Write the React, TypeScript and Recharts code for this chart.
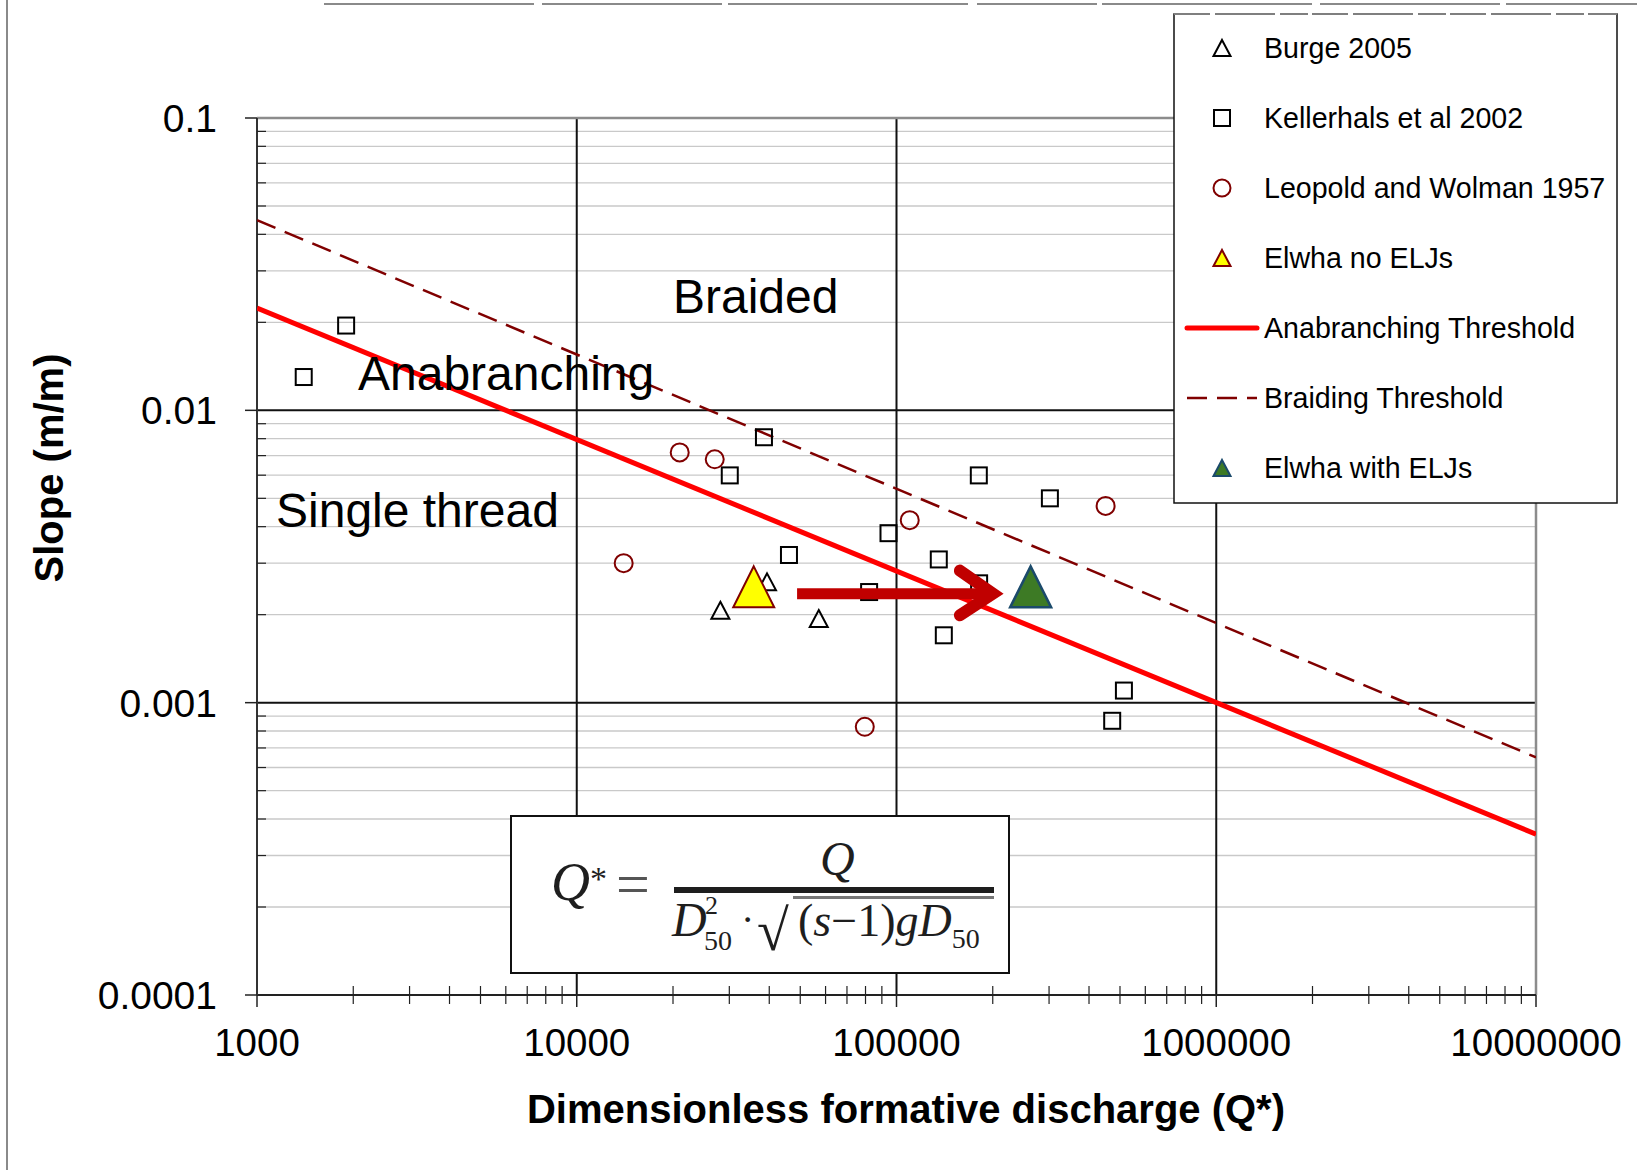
import { ScatterChart, Scatter, XAxis, YAxis, CartesianGrid } from 'recharts'

const W = 1637
const H = 1170
const SANS = '"Liberation Sans", Arial, sans-serif'
const SERIF = '"Liberation Serif", "Times New Roman", serif'

// Burge 2005 (open triangles)
const burgeQ = [28130, 39360, 57130]
const burgeS = [0.00207, 0.00259, 0.00194]

// Kellerhals et al 2002 (open squares)
const kellerhalsQ = [1900, 1400, 38500, 30100, 46100, 82100, 94400, 180900, 135600, 181300, 140600, 301800, 514300, 472700]
const kellerhalsS = [0.0195, 0.013, 0.00809, 0.00599, 0.0032, 0.00239, 0.0038, 0.00599, 0.00309, 0.00256, 0.0017, 0.005, 0.0011, 0.000867]

// Leopold and Wolman 1957 (open circles)
const leopoldQ = [14020, 20990, 27010, 110000, 450800, 79580]
const leopoldS = [0.003, 0.00718, 0.0068, 0.00421, 0.00471, 0.000827]

// Elwha reach before / after ELJs
const elwhaNoQ = [35770]
const elwhaNoS = [0.00249]
const elwhaWithQ = [262700]
const elwhaWithS = [0.00249]

// threshold lines, end points at the domain limits
const thresholdQ = [1000, 10000000]
const anabranchS = [0.0224, 0.000355]
const braidS = [0.0447, 0.00065]

// arrow from "no ELJs" to "with ELJs"
const arrowShaftQ = [48870, 196000]
const arrowShaftS = [0.00236, 0.00236]
const arrowHeadQ = [157800, 200200, 157800]
const arrowHeadS = [0.00283, 0.00236, 0.00199]

const X_MAJOR = [1000, 10000, 100000, 1000000, 10000000]
const Y_MAJOR = [0.0001, 0.001, 0.01, 0.1]
const STEPS = [1, 2, 3, 4, 5, 6, 7, 8, 9]

const X_TICKS = [...X_MAJOR.slice(0, -1).flatMap((d) => STEPS.map((m) => m * d)), 10000000]
const Y_TICKS = [...Y_MAJOR.slice(0, -1).flatMap((d) => STEPS.map((m) => m * d)), 0.1]
const Y_MINOR = Y_TICKS.filter((v) => !Y_MAJOR.includes(v))

const LEGEND_ITEMS = [
  'Burge 2005',
  'Kellerhals et al 2002',
  'Leopold and Wolman 1957',
  'Elwha no ELJs',
  'Anabranching Threshold',
  'Braiding Threshold',
  'Elwha with ELJs',
]

const pts = (qs: number[], ss: number[]) => qs.map((q, i) => ({ q, s: ss[i] }))

const triPoints = (cx: number, cy: number, w: number, h: number) =>
  `${cx},${cy - h / 2} ${cx + w / 2},${cy + h / 2} ${cx - w / 2},${cy + h / 2}`

const noMarker = () => <g />

const openTriangle = ({ cx, cy }: any) => (
  <polygon points={triPoints(cx, cy, 18, 17)} fill="none" stroke="#000" strokeWidth={2} />
)
const openSquare = ({ cx, cy }: any) => (
  <rect x={cx - 8} y={cy - 8} width={16} height={16} fill="none" stroke="#000" strokeWidth={2} />
)
const openCircle = ({ cx, cy }: any) => (
  <circle cx={cx} cy={cy} r={9} fill="none" stroke="#800000" strokeWidth={2} />
)
const yellowTriangle = ({ cx, cy }: any) => (
  <polygon points={triPoints(cx, cy, 41, 41)} fill="#ffff00" stroke="#800000" strokeWidth={2} />
)
const greenTriangle = ({ cx, cy }: any) => (
  <polygon points={triPoints(cx, cy, 41, 41)} fill="#3d7a25" stroke="#1b4a6b" strokeWidth={2.5} />
)

function XTick({ x, y, payload }: any) {
  const v = payload.value
  const major = X_MAJOR.includes(v)
  return (
    <g>
      {major ? (
        <line x1={x} x2={x} y1={y} y2={y + 12} stroke="#222" strokeWidth={1.5} />
      ) : (
        <line x1={x} x2={x} y1={y - 9} y2={y + 9} stroke="#222" strokeWidth={1.2} />
      )}
      {major && (
        <text x={x} y={y + 61} textAnchor="middle" fontSize={38.5} fontFamily={SANS} fill="#000">
          {String(v)}
        </text>
      )}
    </g>
  )
}

function YTick({ x, y, payload }: any) {
  const v = payload.value
  const major = Y_MAJOR.includes(v)
  return (
    <g>
      {major ? (
        <line x1={x - 12} x2={x} y1={y} y2={y} stroke="#222" strokeWidth={1.5} />
      ) : (
        <line x1={x} x2={x + 9} y1={y} y2={y} stroke="#222" strokeWidth={1.2} />
      )}
      {major && (
        <text x={x - 40} y={y + 14} textAnchor="end" fontSize={39} fontFamily={SANS} fill="#000">
          {String(v)}
        </text>
      )}
    </g>
  )
}

function LegendBox() {
  const top = 48
  const gap = 70
  const mx = 1222
  return (
    <g>
      <rect x={1174} y={14} width={443} height={489} fill="#fff" stroke="#111" strokeWidth={1.5} />
      <line x1={1174} x2={1617} y1={14} y2={14} stroke="#fff" strokeWidth={2} />
      <line x1={1174} x2={1617} y1={14} y2={14} stroke="#555" strokeWidth={1.5} strokeDasharray="36 5 60 5 28 4" />
      {LEGEND_ITEMS.map((label, i) => {
        const cy = top + i * gap
        let marker = null
        if (i === 0) marker = <polygon points={triPoints(mx, cy, 17, 16)} fill="none" stroke="#000" strokeWidth={2} />
        if (i === 1) marker = <rect x={mx - 8} y={cy - 8} width={16} height={16} fill="none" stroke="#000" strokeWidth={2} />
        if (i === 2) marker = <circle cx={mx} cy={cy} r={8.5} fill="none" stroke="#800000" strokeWidth={2} />
        if (i === 3) marker = <polygon points={triPoints(mx, cy, 17, 16)} fill="#ffff00" stroke="#800000" strokeWidth={2} />
        if (i === 4) marker = <line x1={1187} x2={1257} y1={cy} y2={cy} stroke="#ff0000" strokeWidth={5} strokeLinecap="round" />
        if (i === 5) marker = <line x1={1187} x2={1257} y1={cy} y2={cy} stroke="#800000" strokeWidth={2.5} strokeDasharray="20 10" />
        if (i === 6) marker = <polygon points={triPoints(mx, cy, 17, 16)} fill="#3d7a25" stroke="#1b4a6b" strokeWidth={2} />
        return (
          <g key={label}>
            {marker}
            <text x={1264} y={cy + 10} fontSize={28.6} fontFamily={SANS} fill="#000">
              {label}
            </text>
          </g>
        )
      })}
    </g>
  )
}

function Formula() {
  const c = '#1e1e1e'
  const base = { fontFamily: SERIF, fill: c }
  return (
    <g>
      <rect x={511} y={816} width={498} height={157} fill="#fff" stroke="#111" strokeWidth={2} />
      <text x={551} y={900} fontSize={54} {...base}>
        <tspan fontStyle="italic">Q</tspan>
        <tspan fontSize={34} dy={-10}>*</tspan>
      </text>
      <text x={616} y={904} fontSize={60} {...base} fill="#555">=</text>
      <text x={820} y={875} fontSize={48} fontStyle="italic" {...base}>Q</text>
      <rect x={674} y={887} width={320} height={6} fill={c} />
      <text x={672} y={936} fontSize={48} fontStyle="italic" {...base}>D</text>
      <text x={705} y={914} fontSize={26} {...base}>2</text>
      <text x={704} y={950} fontSize={28} {...base}>50</text>
      <text x={741} y={933} fontSize={40} {...base}>·</text>
      <text x={757} y={950} fontSize={58} {...base}>√</text>
      <rect x={793} y={896} width={201} height={3} fill="#777" />
      <text x={798} y={936} fontSize={46} {...base}>
        <tspan>(</tspan>
        <tspan fontStyle="italic">s</tspan>
        <tspan>−1)</tspan>
        <tspan fontStyle="italic">gD</tspan>
        <tspan fontSize={28} dy={12}>50</tspan>
      </text>
    </g>
  )
}

export default function App() {
  return (
    <div style={{ position: 'absolute', left: 0, top: 0, width: W, height: H, background: '#fff' }}>
      <ScatterChart width={W} height={H} margin={{ top: 118, right: 101, bottom: 105, left: 0 }}>
        <CartesianGrid horizontalValues={Y_MINOR} vertical={false} stroke="#c9c9c9" strokeWidth={1.3} />
        <CartesianGrid horizontalValues={[0.01, 0.001]} verticalValues={[10000, 100000, 1000000]} stroke="#111" strokeWidth={2} />
        <CartesianGrid horizontalValues={[0.1]} verticalValues={[10000000]} stroke="#8c8c8c" strokeWidth={2.5} />
        <XAxis
          dataKey="q"
          type="number"
          scale="log"
          domain={[1000, 10000000]}
          allowDataOverflow
          ticks={X_TICKS}
          interval={0}
          tick={XTick}
          tickLine={false}
          tickSize={0}
          tickMargin={0}
          height={70}
          axisLine={{ stroke: '#222', strokeWidth: 2 }}
        />
        <YAxis
          dataKey="s"
          type="number"
          scale="log"
          domain={[0.0001, 0.1]}
          allowDataOverflow
          ticks={Y_TICKS}
          interval={0}
          tick={YTick}
          tickLine={false}
          tickSize={0}
          tickMargin={0}
          width={257}
          axisLine={{ stroke: '#333', strokeWidth: 2 }}
        />
        <Scatter data={pts(thresholdQ, braidS)} line={{ stroke: '#800000', strokeWidth: 2.5, strokeDasharray: '20 10' }} shape={noMarker} isAnimationActive={false} />
        <Scatter data={pts(thresholdQ, anabranchS)} line={{ stroke: '#ff0000', strokeWidth: 5 }} shape={noMarker} isAnimationActive={false} />
        <Scatter data={pts(burgeQ, burgeS)} shape={openTriangle} isAnimationActive={false} />
        <Scatter data={pts(kellerhalsQ, kellerhalsS)} shape={openSquare} isAnimationActive={false} />
        <Scatter data={pts(leopoldQ, leopoldS)} shape={openCircle} isAnimationActive={false} />
        <Scatter data={pts(elwhaNoQ, elwhaNoS)} shape={yellowTriangle} isAnimationActive={false} />
        <Scatter data={pts(elwhaWithQ, elwhaWithS)} shape={greenTriangle} isAnimationActive={false} />
        <Scatter data={pts(arrowShaftQ, arrowShaftS)} line={{ stroke: '#c00000', strokeWidth: 11 }} shape={noMarker} isAnimationActive={false} />
        <Scatter
          data={pts(arrowHeadQ, arrowHeadS)}
          line={{ stroke: '#c00000', strokeWidth: 12, strokeLinecap: 'round', strokeLinejoin: 'miter' }}
          shape={noMarker}
          isAnimationActive={false}
        />
      </ScatterChart>
      <svg width={W} height={H} style={{ position: 'absolute', left: 0, top: 0, pointerEvents: 'none' }}>
        {/* frame edges */}
        <line x1={7} x2={7} y1={0} y2={H} stroke="#8a8a8a" strokeWidth={2} />
        <line x1={324} x2={W} y1={4} y2={4} stroke="#8a8a8a" strokeWidth={2} strokeDasharray="210 8 180 6 240 9 120 5" />

        <text x={673} y={313} fontSize={48} fontFamily={SANS} fill="#000">Braided</text>
        <text x={358} y={390} fontSize={48} fontFamily={SANS} fill="#000">Anabranching</text>
        <text x={276} y={527} fontSize={48} fontFamily={SANS} fill="#000">Single thread</text>

        <text x={906} y={1123} textAnchor="middle" fontSize={40} fontWeight="bold" fontFamily={SANS} fill="#000">
          Dimensionless formative discharge (Q*)
        </text>
        <text transform="translate(63,468) rotate(-90)" textAnchor="middle" fontSize={40} fontWeight="bold" fontFamily={SANS} fill="#000">
          Slope (m/m)
        </text>

        <Formula />
        <LegendBox />
      </svg>
    </div>
  )
}
